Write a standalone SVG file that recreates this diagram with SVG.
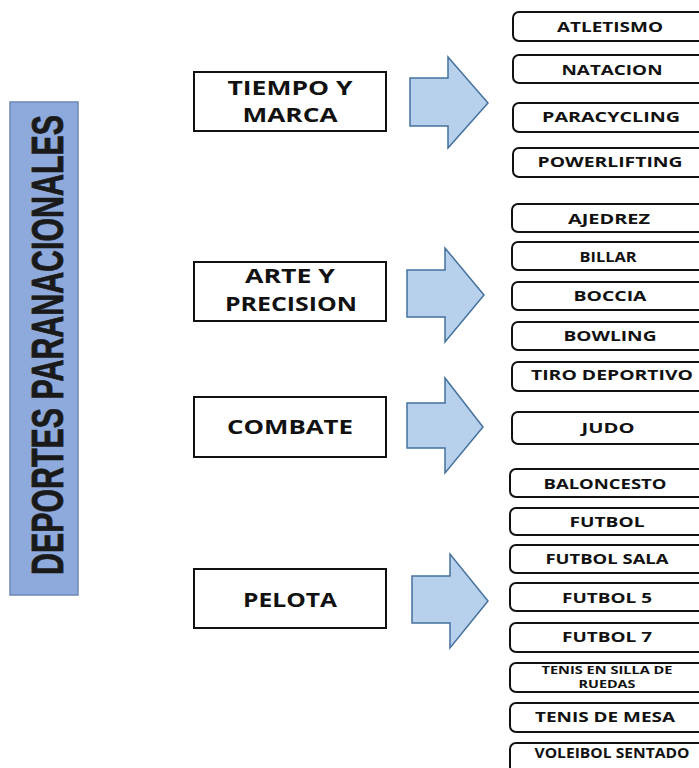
<svg xmlns="http://www.w3.org/2000/svg" width="699" height="768" viewBox="0 0 699 768">
<style>
.bg{fill:#ffffff}
.bar{fill:#8eaadc;stroke:#6f86b8;stroke-width:1.5}
.bartxt{font-family:"Liberation Sans",Arial,sans-serif;font-weight:bold;font-size:45px;fill:#1a1a1a;stroke:#1a1a1a;stroke-width:0.8}
.cat{fill:#ffffff;stroke:#111;stroke-width:2}
.cattxt{font-family:"Open Sans",Lato,"Liberation Sans",sans-serif;font-weight:bold;font-size:19.5px;fill:#111;text-anchor:middle}
.arrow{fill:#b7d0ec;stroke:#44719d;stroke-width:1.5;stroke-linejoin:miter}
.item{fill:#ffffff;stroke:#111;stroke-width:2}
.itxt{font-family:"Open Sans",Lato,"Liberation Sans",sans-serif;font-weight:bold;font-size:14px;fill:#111;text-anchor:middle}
.stxt{font-family:"Open Sans",Lato,"Liberation Sans",sans-serif;font-weight:bold;font-size:10.5px;fill:#111;text-anchor:middle}
</style>
<rect class="bg" x="0" y="0" width="699" height="768"/>

<g id="title">
<rect class="bar" x="10" y="102" width="68" height="493"/>
<text class="bartxt" transform="translate(63,345) rotate(-90) scale(0.675,1)" text-anchor="middle">DEPORTES PARANACIONALES</text>
</g>

<g id="cat-tiempo">
<rect class="cat" x="194" y="72" width="192" height="59"/>
<text class="cattxt" x="290" y="95" textLength="125" lengthAdjust="spacingAndGlyphs">TIEMPO Y</text>
<text class="cattxt" x="290" y="122" textLength="95" lengthAdjust="spacingAndGlyphs">MARCA</text>
</g>
<g id="cat-arte">
<rect class="cat" x="194" y="262" width="192" height="59"/>
<text class="cattxt" x="290" y="283" textLength="90" lengthAdjust="spacingAndGlyphs">ARTE Y</text>
<text class="cattxt" x="291" y="311" textLength="132" lengthAdjust="spacingAndGlyphs">PRECISION</text>
</g>
<g id="cat-combate">
<rect class="cat" x="194" y="397" width="192" height="60"/>
<text class="cattxt" x="290" y="434" textLength="126" lengthAdjust="spacingAndGlyphs">COMBATE</text>
</g>
<g id="cat-pelota">
<rect class="cat" x="194" y="569" width="192" height="59"/>
<text class="cattxt" x="290" y="607" textLength="94" lengthAdjust="spacingAndGlyphs">PELOTA</text>
</g>

<g id="connectors">
<polygon class="arrow" points="410,78 448,78 448,57 488,103 448,148 448,126 410,126"/>
<polygon class="arrow" points="407,270 445,270 445,248 484,295 445,342 445,317 407,317"/>
<polygon class="arrow" points="407,403 445,403 445,378 483,427 445,473 445,448 407,448"/>
<polygon class="arrow" points="412,576 450,576 450,554 488,601 450,648 450,623 412,623"/>
</g>

<g id="atletismo"><rect class="item" x="513" y="12" width="200" height="29" rx="6"/><text class="itxt" x="610" y="32" textLength="106" lengthAdjust="spacingAndGlyphs">ATLETISMO</text></g>
<g id="natacion"><rect class="item" x="513" y="55" width="200" height="28" rx="6"/><text class="itxt" x="612" y="75" textLength="101" lengthAdjust="spacingAndGlyphs">NATACION</text></g>
<g id="paracycling"><rect class="item" x="513" y="103" width="200" height="29" rx="6"/><text class="itxt" x="611" y="122" textLength="138" lengthAdjust="spacingAndGlyphs">PARACYCLING</text></g>
<g id="powerlifting"><rect class="item" x="513" y="148" width="200" height="29" rx="6"/><text class="itxt" x="610" y="167" textLength="145" lengthAdjust="spacingAndGlyphs">POWERLIFTING</text></g>

<g id="ajedrez"><rect class="item" x="512" y="204" width="200" height="28" rx="6"/><text class="itxt" x="609" y="224" textLength="82" lengthAdjust="spacingAndGlyphs">AJEDREZ</text></g>
<g id="billar"><rect class="item" x="512" y="242" width="200" height="28" rx="6"/><text class="itxt" x="608" y="262" textLength="57" lengthAdjust="spacingAndGlyphs">BILLAR</text></g>
<g id="boccia"><rect class="item" x="512" y="282" width="200" height="28" rx="6"/><text class="itxt" x="610" y="301" textLength="73" lengthAdjust="spacingAndGlyphs">BOCCIA</text></g>
<g id="bowling"><rect class="item" x="512" y="322" width="200" height="28" rx="6"/><text class="itxt" x="610" y="341" textLength="93" lengthAdjust="spacingAndGlyphs">BOWLING</text></g>
<g id="tiro"><rect class="item" x="512" y="362" width="200" height="29" rx="6"/><text class="itxt" x="612" y="380" textLength="162" lengthAdjust="spacingAndGlyphs">TIRO DEPORTIVO</text></g>
<g id="judo"><rect class="item" x="512" y="412" width="200" height="32" rx="6"/><text class="itxt" x="608" y="433" textLength="53" lengthAdjust="spacingAndGlyphs">JUDO</text></g>

<g id="baloncesto"><rect class="item" x="510" y="469" width="200" height="28" rx="6"/><text class="itxt" x="605" y="489" textLength="123" lengthAdjust="spacingAndGlyphs">BALONCESTO</text></g>
<g id="futbol"><rect class="item" x="510" y="508" width="200" height="27" rx="6"/><text class="itxt" x="607" y="527" textLength="75" lengthAdjust="spacingAndGlyphs">FUTBOL</text></g>
<g id="futbolsala"><rect class="item" x="510" y="545" width="200" height="28" rx="6"/><text class="itxt" x="607" y="564" textLength="123" lengthAdjust="spacingAndGlyphs">FUTBOL SALA</text></g>
<g id="futbol5"><rect class="item" x="510" y="583" width="200" height="28" rx="6"/><text class="itxt" x="607" y="603" textLength="90" lengthAdjust="spacingAndGlyphs">FUTBOL 5</text></g>
<g id="futbol7"><rect class="item" x="510" y="623" width="200" height="29" rx="6"/><text class="itxt" x="607" y="642" textLength="90" lengthAdjust="spacingAndGlyphs">FUTBOL 7</text></g>
<g id="tenissilla"><rect class="item" x="510" y="663" width="200" height="29" rx="6"/><text class="stxt" x="607" y="674" textLength="131" lengthAdjust="spacingAndGlyphs">TENIS  EN SILLA DE</text><text class="stxt" x="607" y="688" textLength="57" lengthAdjust="spacingAndGlyphs">RUEDAS</text></g>
<g id="tenismesa"><rect class="item" x="510" y="703" width="200" height="29" rx="6"/><text class="itxt" x="605" y="722" textLength="140" lengthAdjust="spacingAndGlyphs">TENIS DE MESA</text></g>
<g id="voleibol"><rect class="item" x="510" y="743" width="200" height="30" rx="6"/><text class="itxt" x="612" y="758" textLength="155" lengthAdjust="spacingAndGlyphs">VOLEIBOL  SENTADO</text></g>
</svg>
